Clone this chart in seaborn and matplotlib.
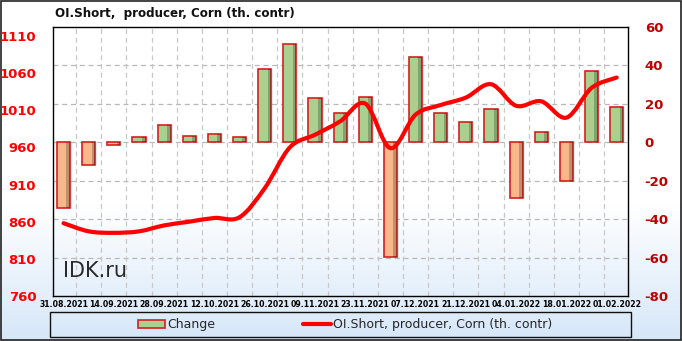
import numpy as np
import pandas as pd
import matplotlib
matplotlib.use("Agg")
import matplotlib.pyplot as plt
from matplotlib.path import Path
from matplotlib.patches import PathPatch, Rectangle, Patch
from matplotlib.lines import Line2D
import seaborn as sns

# ---------------- data ----------------
dates = ["31.08.2021", "07.09.2021", "14.09.2021", "21.09.2021", "28.09.2021",
         "05.10.2021", "12.10.2021", "19.10.2021", "26.10.2021", "02.11.2021",
         "09.11.2021", "16.11.2021", "23.11.2021", "30.11.2021", "07.12.2021",
         "14.12.2021", "21.12.2021", "28.12.2021", "04.01.2022", "11.01.2022",
         "18.01.2022", "25.01.2022", "01.02.2022"]
change = [-34, -12, -1.5, 3, 9, 3.5, 4.5, 3, 38, 51, 23, 15, 23.5, -59.5, 44.5,
          15, 10.5, 17.5, -29, 5.5, -20, 37, 18.5]
oi_short = [858, 847, 845, 847, 855, 860, 865, 866, 905, 960, 977, 995, 1019,
            959, 1004, 1017, 1027, 1045, 1016, 1022, 1000, 1040, 1054]

title = "OI.Short,  producer, Corn (th. contr)"
left_ticks = [760, 810, 860, 910, 960, 1010, 1060, 1110]
right_ticks = [-80, -60, -40, -20, 0, 20, 40, 60]

W, H = 682, 341
fig = plt.figure(figsize=(W / 100, H / 100), dpi=100)
sns.set_style("white")
plt.rcParams["font.family"] = ["DejaVu Sans"]

# background gradient
bg = fig.add_axes([0, 0, 1, 1], zorder=-10)
grad = np.ones((200, 1, 3))
t = np.linspace(0, 1, 200)
w = np.clip((t - 0.6) / 0.4, 0, 1)[:, None]
top = np.array([1.0, 1.0, 1.0])
bot = np.array([0.84, 0.905, 0.975])
grad[:, 0, :] = top * (1 - w) + bot * w
bg.imshow(grad, aspect="auto", extent=[0, 1, 0, 1], origin="upper")
bg.set_xlim(0, 1); bg.set_ylim(0, 1)
bg.axis("off")
bg.add_patch(Rectangle((0.001, 0.002), 0.997, 0.995, fill=False, ec="#222222", lw=1.2,
                       transform=bg.transAxes))

# main axes (bars, right scale)
ax = fig.add_axes([53 / W, 1 - 296 / H, (628 - 53) / W, (296 - 27) / H])
ax.patch.set_alpha(0)
df = pd.DataFrame({"date": dates, "change": change})
pos_c, neg_c = "#a9d08e", "#f8b88a"
colors = [pos_c if v >= 0 else neg_c for v in change]
sns.barplot(data=df, x="date", y="change", hue="date", palette=colors, legend=False,
            width=0.52, ax=ax, edgecolor="#d42020", linewidth=1.2, saturation=1, zorder=3)
for p in list(ax.patches):
    x0, y0 = p.get_x(), p.get_y()
    wd, ht = p.get_width(), p.get_height()
    ax.add_patch(Rectangle((x0 + wd * 0.72, y0), wd * 0.28, ht, fc="black", alpha=0.22,
                           ec="none", zorder=3.5))
    ax.add_patch(Rectangle((x0 + 0.08, y0), wd, ht, fc="gray", alpha=0.18, ec="none",
                           zorder=2.5))
ax.set_ylim(-80, 60)
ax.set_xlim(-0.42, 22.45)
ax.set_xticks(range(0, 23, 2))
ax.set_xticklabels(dates[::2], fontsize=5.6, fontweight="bold", color="black")
ax.tick_params(axis="x", length=0, pad=3)
ax.grid(False)
for v in right_ticks[1:-1]:
    ax.axhline(v, color="#b8b8b8", lw=0.9, ls=(0, (4, 3)), zorder=1)
for xv in np.arange(0.5, 22, 1):
    ax.axvline(xv, color="#c8c8c8", lw=0.9, ls=(0, (4, 3)), zorder=1)
ax.set_xlabel(""); ax.set_ylabel("")
for s in ax.spines.values():
    s.set_color("black"); s.set_linewidth(1.0)

# twin (line, left scale)
ax2 = ax.twinx()
ax.yaxis.tick_right()
ax.yaxis.set_label_position("right")
ax.set_yticks(right_ticks)
ax.set_yticklabels([str(v) for v in right_ticks], color="#c00000", fontsize=9.5,
                   fontweight="bold")
ax.tick_params(axis="y", length=0, pad=12, labelright=True, labelleft=False)

ax2.set_ylim(760, 1122)
ax2.yaxis.tick_left()
ax2.set_yticks(left_ticks)
ax2.set_yticklabels([str(v) for v in left_ticks], color="#ff0000", fontsize=9.5,
                    fontweight="bold")
ax2.tick_params(axis="y", length=0, pad=12, labelleft=True, labelright=False)
xs = np.arange(len(oi_short), dtype=float)
ys = np.array(oi_short, dtype=float)
pts = np.column_stack([xs, ys])
verts = [pts[0]]
codes = [Path.MOVETO]
n = len(pts)
for i in range(n - 1):
    p0 = pts[i - 1] if i > 0 else pts[i]
    p1 = pts[i]
    p2 = pts[i + 1]
    p3 = pts[i + 2] if i + 2 < n else pts[i + 1]
    c1 = p1 + (p2 - p0) / 6.0
    c2 = p2 - (p3 - p1) / 6.0
    verts += [c1, c2, p2]
    codes += [Path.CURVE4] * 3
path = Path(verts, codes)
ax2.add_patch(PathPatch(path, fill=False, ec="#ff0000", lw=3.0, capstyle="round",
                        joinstyle="round", zorder=5))
for s in ax2.spines.values():
    s.set_visible(False)

# watermark
fig.text(63 / W, 1 - 271 / H, "IDK.ru", fontsize=15,
         color="#2a2a2a", ha="left", va="center", family="DejaVu Sans")

# title
fig.text(55 / W, 1 - 13 / H, title, fontsize=8.6, fontweight="bold", ha="left",
         va="center", color="#111111")

# legend
bg.add_patch(Rectangle((50 / W, 1 - 337 / H), 581 / W, 25 / H, fill=False, ec="#111111",
                       lw=1.0, transform=bg.transAxes))
handles = [Patch(fc=pos_c, ec="#d42020", lw=1.2),
           Line2D([0], [0], color="#ff0000", lw=3.0)]
fig.legend(handles, ["Change", "OI.Short, producer, Corn (th. contr)"],
           loc="center", bbox_to_anchor=(345 / W, 1 - 324.5 / H), ncol=2,
           frameon=False, fontsize=9, handlelength=2.2, handleheight=0.6,
           handletextpad=0.2, columnspacing=7.0)

fig.savefig("out.png", dpi=100)
